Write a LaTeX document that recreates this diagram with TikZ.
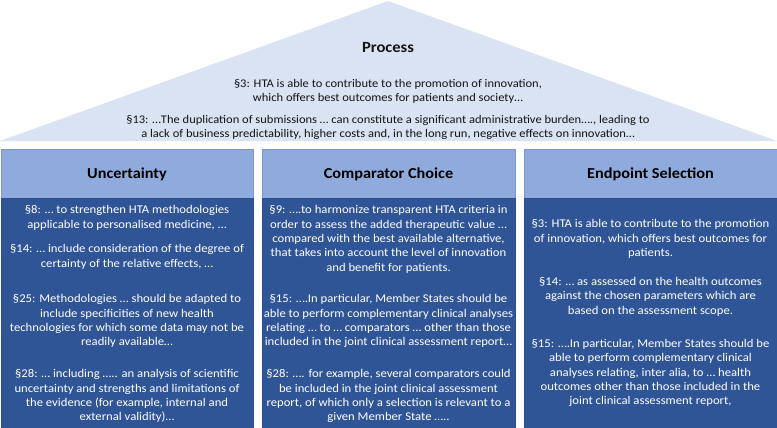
\documentclass[tikz,border=0pt]{standalone}
\usepackage{fontspec}
\setmainfont{Carlito}[FakeStretch=1.07]
\definecolor{roofc}{RGB}{218,227,243}
\definecolor{headc}{RGB}{143,170,220}
\definecolor{bodyc}{RGB}{47,85,151}
\definecolor{inkc}{RGB}{20,20,20}
\tikzset{
  headbox/.style={fill=headc, draw=headc!88!black, line width=0.4pt, minimum height=49pt, inner sep=0pt, text height=10.5pt, text depth=1pt, font=\fontsize{15.2}{18}\selectfont\bfseries, text=black},
  bodybox/.style={fill=bodyc, draw=bodyc!92!black, line width=0.4pt, inner sep=0pt},
  ptext/.style={anchor=north, inner sep=0pt, align=center, font=\fontsize{11.85}{14.3}\selectfont, text=white},
  rtext/.style={anchor=north, inner sep=0pt, align=center, font=\fontsize{11.7}{14.6}\selectfont, text=inkc},
}
\begin{document}
\begin{tikzpicture}[x=1pt,y=-1pt]
\useasboundingbox (0,0) rectangle (777,428);
% roof
\fill[roofc] (0,141) -- (388,1) -- (777,141) -- cycle;
\node[font=\fontsize{15.5}{18}\selectfont\bfseries, text=inkc] (proc) at (388,48) {Process};
\node[rtext] (r3) at (388,79) {§3: HTA is able to contribute to the promotion of innovation,\\which offers best outcomes for patients and society…};
\node[rtext] (r13) at (388,115) {§13: …The duplication of submissions … can constitute a significant administrative burden…., leading to\\a lack of business predictability, higher costs and, in the long run, negative effects on innovation…};
% column boxes
\node[headbox, minimum width=252pt] (h1) at (127,173.5) {Uncertainty};
\node[headbox, minimum width=253pt] (h2) at (388.5,173.5) {Comparator Choice};
\node[headbox, minimum width=253pt] (h3) at (650.5,173.5) {Endpoint Selection};
\node[bodybox, minimum width=252pt, minimum height=230pt] (b1) at (127,313) {};
\node[bodybox, minimum width=253pt, minimum height=230pt] (b2) at (388.5,313) {};
\node[bodybox, minimum width=253pt, minimum height=230pt] (b3) at (650.5,313) {};
% column 1
\node[ptext] (u8) at (127,205.5) {§8: … to strengthen HTA methodologies\\applicable to personalised medicine, …};
\node[ptext] (u14) at (127,244.5) {§14: … include consideration of the degree of\\certainty of the relative effects, …};
\node[ptext] (u25) at (127,294.5) {§25: Methodologies … should be adapted to\\include specificities of new health\\technologies for which some data may not be\\readily available…};
\node[ptext] (u28) at (127,369.5) {§28: … including ….. an analysis of scientific\\uncertainty and strengths and limitations of\\the evidence (for example, internal and\\external validity)…};
% column 2
\node[ptext] (c9) at (388.5,205.5) {§9: ….to harmonize transparent HTA criteria in\\order to assess the added therapeutic value …\\compared with the best available alternative,\\that takes into account the level of innovation\\and benefit for patients.};
\node[ptext] (c15) at (388.5,294.5) {§15: ….In particular, Member States should be\\able to perform complementary clinical analyses\\relating … to … comparators … other than those\\included in the joint clinical assessment report…};
\node[ptext] (c28) at (388.5,369.5) {§28: …. for example, several comparators could\\be included in the joint clinical assessment\\report, of which only a selection is relevant to a\\given Member State …..};
% column 3
\node[ptext] (e3) at (650.5,219.5) {§3: HTA is able to contribute to the promotion\\of innovation, which offers best outcomes for\\patients.};
\node[ptext] (e14) at (650.5,277) {§14: … as assessed on the health outcomes\\against the chosen parameters which are\\based on the assessment scope.};
\node[ptext] (e15) at (650.5,339) {§15: ….In particular, Member States should be\\able to perform complementary clinical\\analyses relating, inter alia, to … health\\outcomes other than those included in the\\joint clinical assessment report,};
\end{tikzpicture}
\end{document}
